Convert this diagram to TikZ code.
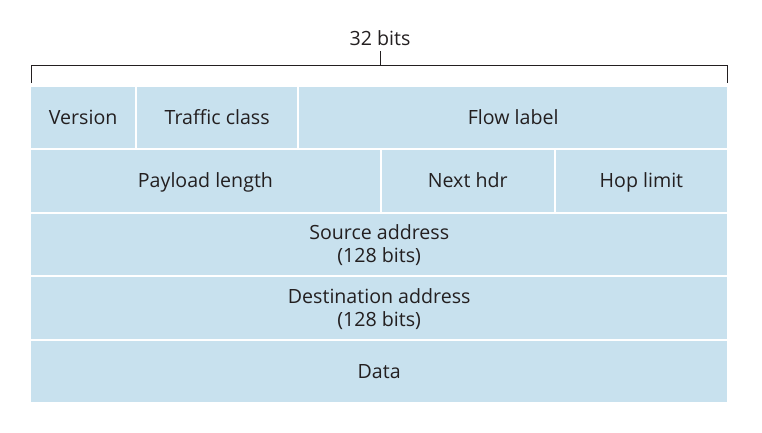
\documentclass[tikz,border=0pt]{standalone}
\usepackage{fontspec}
\setmainfont{Open Sans}
\definecolor{cellblue}{RGB}{200,225,238}
\definecolor{txt}{RGB}{35,31,32}
\begin{document}
\begin{tikzpicture}[x=1pt,y=-1pt,
  cell/.style={fill=cellblue, inner sep=0pt, anchor=north west, align=center,
    font=\fontsize{19.6}{23}\selectfont, text=txt, minimum height=61.5pt,
    text height=14pt, text depth=0pt},
  twoline/.style={text height=37pt, text depth=0pt},
  bracket/.style={draw=txt, line width=1pt}]
\useasboundingbox (0,0) rectangle (762,432);
% header bracket
\node[font=\fontsize{19.6}{23}\selectfont, text=txt, inner sep=0pt,
  text height=14pt, text depth=0pt] (bits) at (380,38) {32 bits};
\coordinate (bl) at (31,83);
\coordinate (blt) at (31,65);
\coordinate (brt) at (727,65);
\coordinate (br) at (727,83);
\coordinate (mt) at (380.5,51);
\coordinate (mb) at (380.5,65);
\draw[bracket] (bl) -- (blt) -- (brt) -- (br);
\draw[bracket] (mt) -- (mb);
% row 1
\node[cell, minimum width=104pt] (ver) at (31,86.5) {Version};
\node[cell, minimum width=160pt] (tc) at (137,86.5) {Traffic class};
\node[cell, minimum width=428pt] (fl) at (299,86.5) {Flow label};
% row 2
\node[cell, minimum width=348.5pt] (pl) at (31,150) {Payload length};
\node[cell, minimum width=172pt] (nh) at (381.5,150) {Next hdr};
\node[cell, minimum width=171.5pt] (hl) at (555.5,150) {Hop limit};
% rows 3-5
\node[cell, twoline, minimum width=696pt] (src) at (31,213.5) {Source address\\(128 bits)};
\node[cell, twoline, minimum width=696pt] (dst) at (31,277) {Destination address\\(128 bits)};
\node[cell, minimum width=696pt] (data) at (31,340.5) {Data};
\end{tikzpicture}
\end{document}
